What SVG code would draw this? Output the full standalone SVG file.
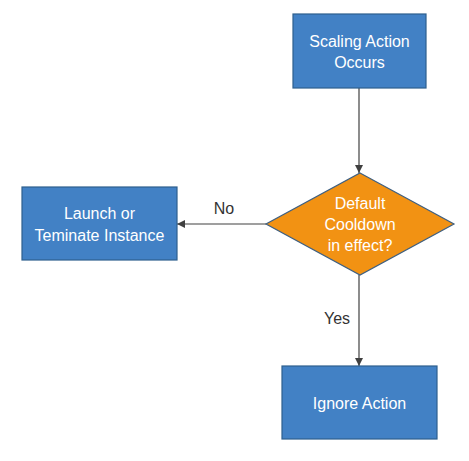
<svg xmlns="http://www.w3.org/2000/svg" width="469" height="461" viewBox="0 0 469 461">
<style>
.box{fill:#4281C5;stroke:#2E5F8E;stroke-width:1.2}
.dia{fill:#F29213;stroke:#3E5F80;stroke-width:1.2}
.t{fill:#FFFFFF;font-family:"Liberation Sans",Arial,sans-serif;font-size:16px;text-anchor:middle;dominant-baseline:central}
.lbl{fill:#333333;font-family:"Liberation Sans",Arial,sans-serif;font-size:16px;text-anchor:middle;dominant-baseline:central}
.c{stroke:#404040;stroke-width:1.2;fill:none}
</style>
<defs>
<marker id="ah" viewBox="0 0 10 10" refX="10" refY="5" markerWidth="8" markerHeight="8" markerUnits="userSpaceOnUse" orient="auto">
<path d="M0,0 L10,5 L0,10 z" fill="#404040"/>
</marker>
</defs>
<g id="connectors">
<line class="c" x1="359" y1="88" x2="359" y2="173" marker-end="url(#ah)"/>
<line class="c" x1="266" y1="224" x2="177" y2="224" marker-end="url(#ah)"/>
<line class="c" x1="359" y1="275" x2="359" y2="366" marker-end="url(#ah)"/>
<text class="lbl" x="224" y="208">No</text>
<text class="lbl" x="337" y="318">Yes</text>
</g>
<g id="scaling">
<rect class="box" x="293" y="14" width="133" height="74"/>
<text class="t" x="359.5" y="41">Scaling Action</text>
<text class="t" x="359.5" y="62">Occurs</text>
</g>
<g id="cooldown">
<polygon class="dia" points="360,173 454,224 360,275 266,224"/>
<text class="t" x="360" y="203">Default</text>
<text class="t" x="360" y="224">Cooldown</text>
<text class="t" x="360" y="245">in effect?</text>
</g>
<g id="launch">
<rect class="box" x="22" y="187" width="155" height="73"/>
<text class="t" x="99.5" y="213">Launch or</text>
<text class="t" x="99.5" y="235">Teminate Instance</text>
</g>
<g id="ignore">
<rect class="box" x="282" y="366" width="155" height="73"/>
<text class="t" x="359.5" y="403">Ignore Action</text>
</g>
</svg>
